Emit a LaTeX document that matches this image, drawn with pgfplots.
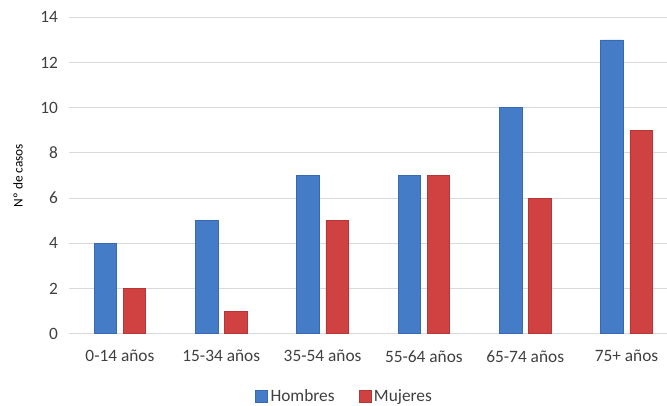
\documentclass[border=0pt]{standalone}
\usepackage{pgfplots}
\pgfplotsset{compat=1.18}
\usepackage{fontspec}
\setmainfont{Carlito}
\definecolor{hblue}{RGB}{68,124,200}
\definecolor{hblueb}{RGB}{56,106,178}
\definecolor{mred}{RGB}{208,66,66}
\definecolor{mredb}{RGB}{182,54,54}
\definecolor{txt}{RGB}{64,64,64}
\definecolor{gridc}{RGB}{217,217,217}
\begin{document}
\begin{tikzpicture}
\begin{axis}[
  at={(0,0)}, anchor=south west,
  scale only axis,
  width=448.3pt, height=237.3pt,
  ybar=5pt, bar width=16.9pt,
  xmin=-0.5, xmax=5.4, ymin=0, ymax=14,
  xtick={0,1,2,3,4,5},
  xticklabels={0-14 años,15-34 años,35-54 años,55-64 años,65-74 años,75+ años},
  ytick={0,2,4,6,8,10,12,14},
  ymajorgrids, grid style={draw=gridc, line width=0.8pt},
  axis line style={draw=none},
  major tick length=0pt,
  tick style={draw=none},
  /pgf/number format/assume math mode=true,
  tick label style={font=\fontsize{13}{15}\selectfont, text=txt},
  xticklabel style={yshift=-9pt},
  yticklabel style={xshift=-5pt},
  ylabel={Nº de casos},
  ylabel style={font=\fontsize{11}{13}\selectfont, text=black},
  every axis y label/.style={at={(axis description cs:-0.0858,0.5)}, rotate=90, anchor=center},
  legend style={at={(0.461,-0.199)}, anchor=center, draw=none, legend columns=2,
    font=\fontsize{13}{15}\selectfont, text=txt,
    /tikz/every even column/.append style={column sep=16pt}},
  every axis plot/.append style={legend image code/.code={\draw[#1] (0pt,-4.5pt) rectangle (9pt,4.5pt);}},
]
\addplot[fill=hblue, draw=hblueb, line width=0.5pt] coordinates {(0,4) (1,5) (2,7) (3,7) (4,10) (5,13)};
\addplot[fill=mred, draw=mredb, line width=0.5pt] coordinates {(0,2) (1,1) (2,5) (3,7) (4,6) (5,9)};
\legend{Hombres,Mujeres}
\end{axis}
\pgfresetboundingbox
\path[use as bounding box] (-51.975pt,-54.225pt) rectangle (448.275pt,250.275pt);
\end{tikzpicture}
\end{document}
